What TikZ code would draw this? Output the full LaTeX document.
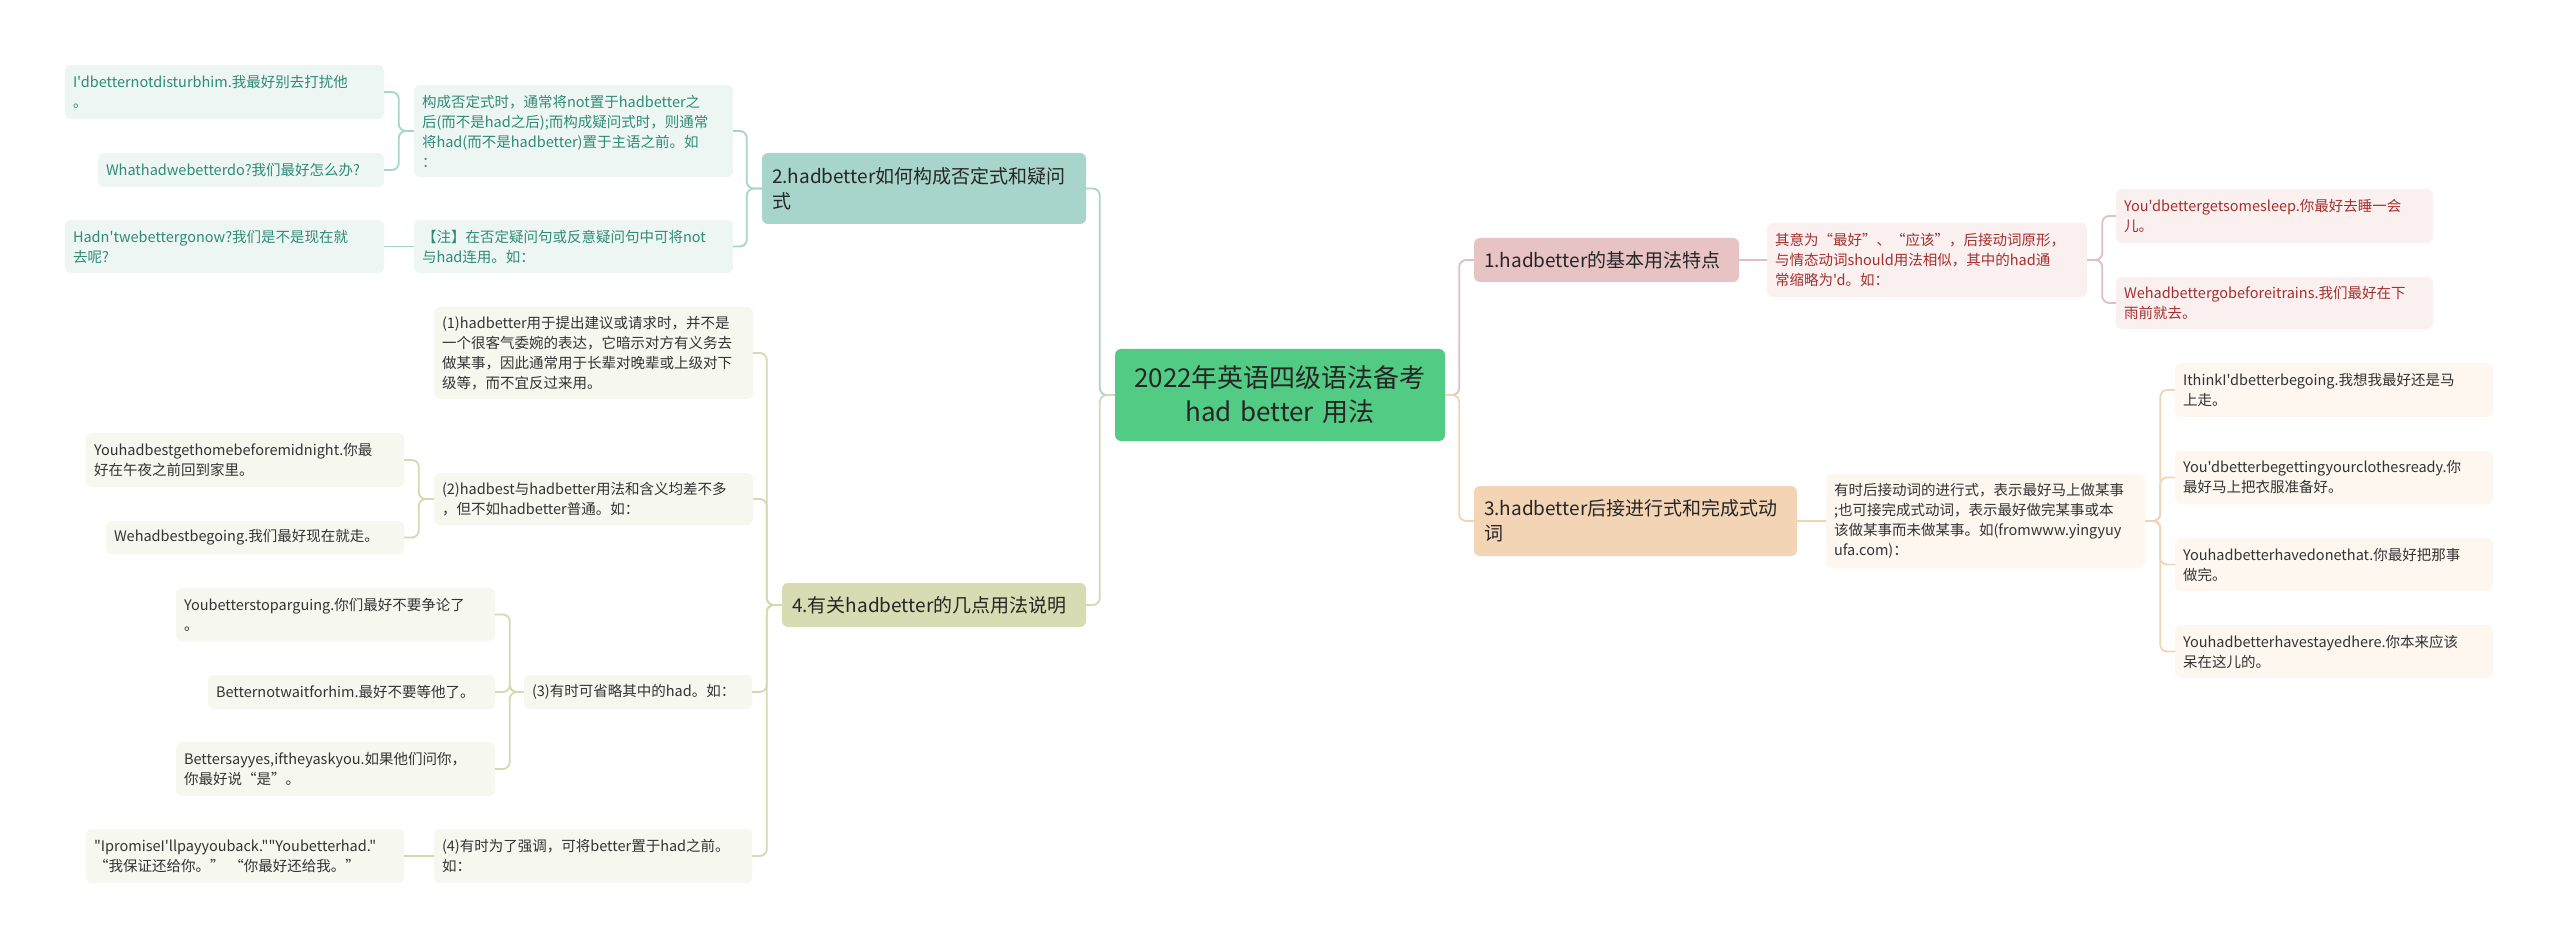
\documentclass[tikz,border=0pt]{standalone}
\usepackage{fontspec}
\newfontfamily\nf{Noto Sans CJK SC}
\definecolor{cgreen}{HTML}{52CB84}
\definecolor{ctext}{HTML}{262626}
\definecolor{tealM}{HTML}{A8D5CB}
\definecolor{tealL}{HTML}{EEF6F4}
\definecolor{tealT}{HTML}{2E8B74}
\definecolor{oliveM}{HTML}{D9DCB2}
\definecolor{oliveLine}{HTML}{D6D9B0}
\definecolor{oliveL}{HTML}{F6F7EF}
\definecolor{pinkM}{HTML}{E8C3C3}
\definecolor{pinkLine}{HTML}{E2BFBF}
\definecolor{pinkL}{HTML}{FAF0F0}
\definecolor{pinkT}{HTML}{A3302E}
\definecolor{peachM}{HTML}{F3D5B5}
\definecolor{peachLine}{HTML}{EFD4B6}
\definecolor{peachL}{HTML}{FDF7F0}
\definecolor{grayT}{HTML}{333333}
\newcommand\mybox[8][8]{%
  \pgfmathsetmacro\myTW{#6-#4-2*#1}%
  \pgfmathsetmacro\myBH{#7-#5}%
  \pgfmathsetmacro\myCX{(#4+#6)/2}%
  \pgfmathsetmacro\myCY{(#5+#7)/2}%
  \node[#2, inner xsep=#1pt, text width=\myTW pt, minimum height=\myBH pt] (#3) at (\myCX,\myCY) {#8};%
}
\tikzset{
  base/.style={rounded corners=6pt, inner ysep=0pt, align=left, anchor=center,
    font=\nf\fontsize{14.5}{20}\selectfont},
  mainbox/.style={base, font=\nf\fontsize{19}{25}\selectfont, text=ctext},
  rootbox/.style={base, fill=cgreen, align=center, text=ctext, font=\nf\fontsize{26}{34}\selectfont},
  tealMain/.style={mainbox, fill=tealM},
  tealLeaf/.style={base, fill=tealL, text=tealT},
  oliveMain/.style={mainbox, fill=oliveM},
  oliveLeaf/.style={base, fill=oliveL, text=grayT},
  pinkMain/.style={mainbox, fill=pinkM},
  pinkLeaf/.style={base, fill=pinkL, text=pinkT},
  peachMain/.style={mainbox, fill=peachM},
  peachLeaf/.style={base, fill=peachL, text=grayT},
  conn/.style={line width=1.8pt, rounded corners=7pt},
  tealC/.style={conn, draw=tealM},
  oliveC/.style={conn, draw=oliveLine},
  pinkC/.style={conn, draw=pinkLine},
  peachC/.style={conn, draw=peachLine},
}
\begin{document}
\begin{tikzpicture}[x=1pt,y=-1pt]
\useasboundingbox[fill=white] (0,0) rectangle (2560,949);
% root
\mybox[6]{rootbox}{C}{1115}{349}{1445}{441}{2022年英语四级语法备考\\had better 用法}
% right: branch 1
\mybox[10]{pinkMain}{N1}{1474}{238}{1739}{282}{1.hadbetter的基本用法特点}
\mybox{pinkLeaf}{N1a}{1767}{223}{2087}{297}{其意为“最好”、“应该”，后接动词原形，\\与情态动词should用法相似，其中的had通\\常缩略为'd。如：}
\mybox{pinkLeaf}{N1aa}{2116}{189}{2433}{243}{You'dbettergetsomesleep.你最好去睡一会\\儿。}
\mybox{pinkLeaf}{N1ab}{2116}{277}{2433}{329}{Wehadbettergobeforeitrains.我们最好在下\\雨前就去。}
% right: branch 3
\mybox[10]{peachMain}{N3}{1474}{486}{1797}{556}{3.hadbetter后接进行式和完成式动\\词}
\mybox{peachLeaf}{N3a}{1826}{474}{2145}{568}{有时后接动词的进行式，表示最好马上做某事\\;也可接完成式动词，表示最好做完某事或本\\该做某事而未做某事。如(fromwww.yingyuy\\ufa.com)：}
\mybox{peachLeaf}{N3aa}{2175}{363}{2493}{417}{IthinkI'dbetterbegoing.我想我最好还是马\\上走。}
\mybox{peachLeaf}{N3ab}{2175}{451}{2493}{504}{You'dbetterbegettingyourclothesready.你\\最好马上把衣服准备好。}
\mybox{peachLeaf}{N3ac}{2175}{538}{2493}{591}{Youhadbetterhavedonethat.你最好把那事\\做完。}
\mybox{peachLeaf}{N3ad}{2175}{625}{2493}{678}{Youhadbetterhavestayedhere.你本来应该\\呆在这儿的。}
% left: branch 2
\mybox[10]{tealMain}{N2}{762}{153}{1086}{224}{2.hadbetter如何构成否定式和疑问\\式}
\mybox{tealLeaf}{N2a}{414}{85}{733}{177}{构成否定式时，通常将not置于hadbetter之\\后(而不是had之后);而构成疑问式时，则通常\\将had(而不是hadbetter)置于主语之前。如\\：}
\mybox{tealLeaf}{N2b}{414}{220}{733}{273}{【注】在否定疑问句或反意疑问句中可将not\\与had连用。如：}
\mybox{tealLeaf}{N2aa}{65}{65}{384}{119}{I'dbetternotdisturbhim.我最好别去打扰他\\。}
\mybox{tealLeaf}{N2ab}{98}{153}{384}{187}{Whathadwebetterdo?我们最好怎么办?}
\mybox{tealLeaf}{N2ba}{65}{220}{384}{273}{Hadn'twebettergonow?我们是不是现在就\\去呢?}
% left: branch 4
\mybox[10]{oliveMain}{N4}{782}{583}{1086}{627}{4.有关hadbetter的几点用法说明}
\mybox{oliveLeaf}{N4a}{434}{307}{753}{399}{(1)hadbetter用于提出建议或请求时，并不是\\一个很客气委婉的表达，它暗示对方有义务去\\做某事，因此通常用于长辈对晚辈或上级对下\\级等，而不宜反过来用。}
\mybox{oliveLeaf}{N4b}{434}{473}{753}{525}{(2)hadbest与hadbetter用法和含义均差不多\\，但不如hadbetter普通。如：}
\mybox{oliveLeaf}{N4c}{524}{675}{752}{709}{(3)有时可省略其中的had。如：}
\mybox{oliveLeaf}{N4d}{434}{829}{752}{883}{(4)有时为了强调，可将better置于had之前。\\如：}
\mybox{oliveLeaf}{N4ba}{86}{433}{404}{487}{Youhadbestgethomebeforemidnight.你最\\好在午夜之前回到家里。}
\mybox{oliveLeaf}{N4bb}{106}{521}{404}{554}{Wehadbestbegoing.我们最好现在就走。}
\mybox{oliveLeaf}{N4ca}{176}{588}{495}{641}{Youbetterstoparguing.你们最好不要争论了\\。}
\mybox{oliveLeaf}{N4cb}{208}{675}{495}{709}{Betternotwaitforhim.最好不要等他了。}
\mybox{oliveLeaf}{N4cc}{176}{742}{495}{796}{Bettersayyes,iftheyaskyou.如果他们问你，\\你最好说“是”。}
\mybox{oliveLeaf}{N4da}{86}{829}{404}{883}{"IpromiseI'llpayyouback.""Youbetterhad."\\“我保证还给你。” “你最好还给我。”}
% connectors right
\draw[pinkC] (C.east) -- ++(14,0) |- (N1.west);
\draw[peachC] (C.east) -- ++(14,0) |- (N3.west);
\draw[pinkC] (N1.east) -- (N1a.west);
\draw[pinkC] (N1a.east) -- ++(15,0) |- (N1aa.west);
\draw[pinkC] (N1a.east) -- ++(15,0) |- (N1ab.west);
\draw[peachC] (N3.east) -- (N3a.west);
\foreach \k in {N3aa,N3ab,N3ac,N3ad}{
  \draw[peachC] (N3a.east) -- ++(15,0) |- (\k.west);
}
% connectors left
\draw[tealC] (C.west) -- ++(-15,0) |- (N2.east);
\draw[oliveC] (C.west) -- ++(-15,0) |- (N4.east);
\draw[tealC] (N2.west) -- ++(-15,0) |- (N2a.east);
\draw[tealC] (N2.west) -- ++(-15,0) |- (N2b.east);
\draw[tealC] (N2a.west) -- ++(-15,0) |- (N2aa.east);
\draw[tealC] (N2a.west) -- ++(-15,0) |- (N2ab.east);
\draw[tealC] (N2b.west) -- (N2ba.east);
\foreach \k in {N4a,N4b,N4c,N4d}{
  \draw[oliveC] (N4.west) -- ++(-15,0) |- (\k.east);
}
\draw[oliveC] (N4b.west) -- ++(-15,0) |- (N4ba.east);
\draw[oliveC] (N4b.west) -- ++(-15,0) |- (N4bb.east);
\foreach \k in {N4ca,N4cb,N4cc}{
  \draw[oliveC] (N4c.west) -- ++(-14,0) |- (\k.east);
}
\draw[oliveC] (N4d.west) -- (N4da.east);
\end{tikzpicture}
\end{document}
